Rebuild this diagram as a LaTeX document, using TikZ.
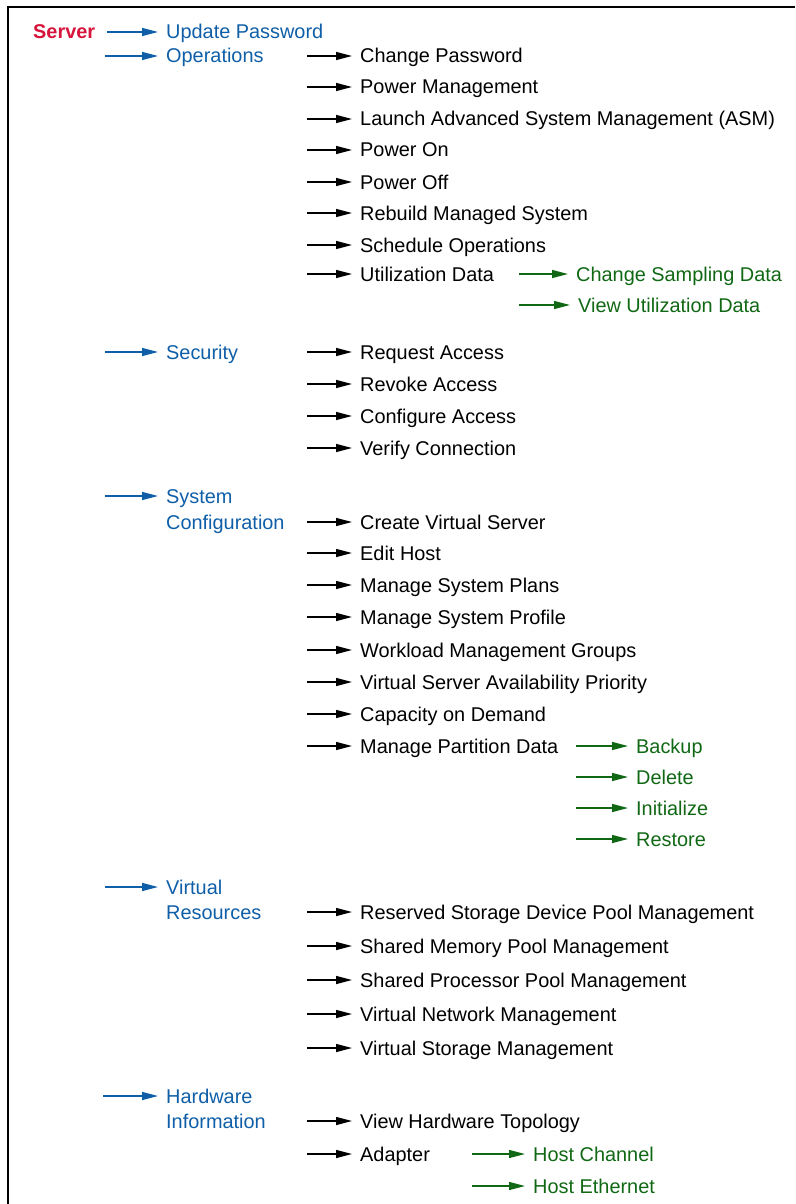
\documentclass[tikz,border=0pt]{standalone}
\usepackage{fontspec}
\setmainfont{Liberation Sans}
\usetikzlibrary{arrows.meta}
\definecolor{srvred}{RGB}{214,20,60}
\definecolor{catblue}{RGB}{14,94,168}
\definecolor{subgreen}{RGB}{16,104,20}
\begin{document}
\begin{tikzpicture}[x=1pt,y=-1pt,
  basefont/.style={font=\fontsize{19.9}{24}\selectfont},
  lbl/.style={basefont, anchor=west, inner xsep=8pt, inner ysep=0pt, text height=14pt, text depth=0pt},
  cat/.style={lbl, text=catblue},
  op/.style={lbl, text=black},
  sub/.style={lbl, text=subgreen},
  arr/.style={line width=1.4pt, -{Triangle[length=16pt,width=8pt]}},
  catarr/.style={arr, color=catblue},
  oparr/.style={arr, color=black},
  subarr/.style={arr, color=subgreen}]
\useasboundingbox (0,0) rectangle (795,1204);
% frame
\draw[line width=1.4pt] (795,7) -- (8,7) -- (8,1204);

% root
\node[lbl, text=srvred, font=\fontsize{19.9}{24}\selectfont\bfseries] (server) at (25,32) {Server};

% categories
\node[cat] (upd) at (158,32) {Update Password};
\node[cat] (ops) at (158,56) {Operations};
\node[cat] (sec) at (158,352) {Security};
\node[cat] (sysa) at (158,496) {System};
\node[cat] (sysb) at (158,522) {Configuration};
\node[cat] (vra) at (158,887) {Virtual};
\node[cat] (vrb) at (158,912) {Resources};
\node[cat] (hwa) at (158,1096) {Hardware};
\node[cat] (hwb) at (158,1121) {Information};

\coordinate (c2) at (105,56);
\coordinate (c3) at (105,352);
\coordinate (c4) at (105,496);
\coordinate (c5) at (105,887);
\coordinate (c6) at (103,1096);
\draw[catarr, shorten <=4pt] (server) -- (upd);
\draw[catarr] (c2) -- (ops);
\draw[catarr] (c3) -- (sec);
\draw[catarr] (c4) -- (sysa);
\draw[catarr] (c5) -- (vra);
\draw[catarr] (c6) -- (hwa);

% operations
\node[op] (o1) at (352,56) {Change Password};
\node[op] (o2) at (352,87) {Power Management};
\node[op] (o3) at (352,119) {Launch Advanced System Management (ASM)};
\node[op] (o4) at (352,150) {Power On};
\node[op] (o5) at (352,182) {Power Off};
\node[op] (o6) at (352,213) {Rebuild Managed System};
\node[op] (o7) at (352,245) {Schedule Operations};
\node[op] (o8) at (352,274) {Utilization Data};
\foreach \n/\y in {o1/56,o2/87,o3/119,o4/150,o5/182,o6/213,o7/245,o8/274}{
  \coordinate (s\n) at (307,\y);
  \draw[oparr] (s\n) -- (\n);
}
\node[sub] (u1) at (568,274) {Change Sampling Data};
\node[sub] (u2) at (570,305) {View Utilization Data};
\coordinate (su1) at (519,274);
\coordinate (su2) at (519,305);
\draw[subarr] (su1) -- (u1);
\draw[subarr] (su2) -- (u2);

% security
\node[op] (e1) at (352,352) {Request Access};
\node[op] (e2) at (352,384) {Revoke Access};
\node[op] (e3) at (352,416) {Configure Access};
\node[op] (e4) at (352,448) {Verify Connection};
\foreach \n/\y in {e1/352,e2/384,e3/416,e4/448}{
  \coordinate (s\n) at (307,\y);
  \draw[oparr] (s\n) -- (\n);
}

% system configuration
\node[op] (g1) at (352,522) {Create Virtual Server};
\node[op] (g2) at (352,553) {Edit Host};
\node[op] (g3) at (352,585) {Manage System Plans};
\node[op] (g4) at (352,617) {Manage System Profile};
\node[op] (g5) at (352,650) {Workload Management Groups};
\node[op] (g6) at (352,682) {Virtual Server Availability Priority};
\node[op] (g7) at (352,714) {Capacity on Demand};
\node[op] (g8) at (352,746) {Manage Partition Data};
\foreach \n/\y in {g1/522,g2/553,g3/585,g4/617,g5/650,g6/682,g7/714,g8/746}{
  \coordinate (s\n) at (307,\y);
  \draw[oparr] (s\n) -- (\n);
}
\node[sub] (p1) at (628,746) {Backup};
\node[sub] (p2) at (628,777) {Delete};
\node[sub] (p3) at (628,808) {Initialize};
\node[sub] (p4) at (628,839) {Restore};
\foreach \n/\y in {p1/746,p2/777,p3/808,p4/839}{
  \coordinate (s\n) at (576,\y);
  \draw[subarr] (s\n) -- (\n);
}

% virtual resources
\node[op] (v1) at (352,912) {Reserved Storage Device Pool Management};
\node[op] (v2) at (352,946) {Shared Memory Pool Management};
\node[op] (v3) at (352,980) {Shared Processor Pool Management};
\node[op] (v4) at (352,1014) {Virtual Network Management};
\node[op] (v5) at (352,1048) {Virtual Storage Management};
\foreach \n/\y in {v1/912,v2/946,v3/980,v4/1014,v5/1048}{
  \coordinate (s\n) at (307,\y);
  \draw[oparr] (s\n) -- (\n);
}

% hardware information
\node[op] (h1) at (352,1121) {View Hardware Topology};
\node[op] (h2) at (352,1154) {Adapter};
\foreach \n/\y in {h1/1121,h2/1154}{
  \coordinate (s\n) at (307,\y);
  \draw[oparr] (s\n) -- (\n);
}
\node[sub] (a1) at (525,1154) {Host Channel};
\node[sub] (a2) at (525,1186) {Host Ethernet};
\coordinate (sa1) at (472,1154);
\coordinate (sa2) at (472,1186);
\draw[subarr] (sa1) -- (a1);
\draw[subarr] (sa2) -- (a2);
\end{tikzpicture}
\end{document}
